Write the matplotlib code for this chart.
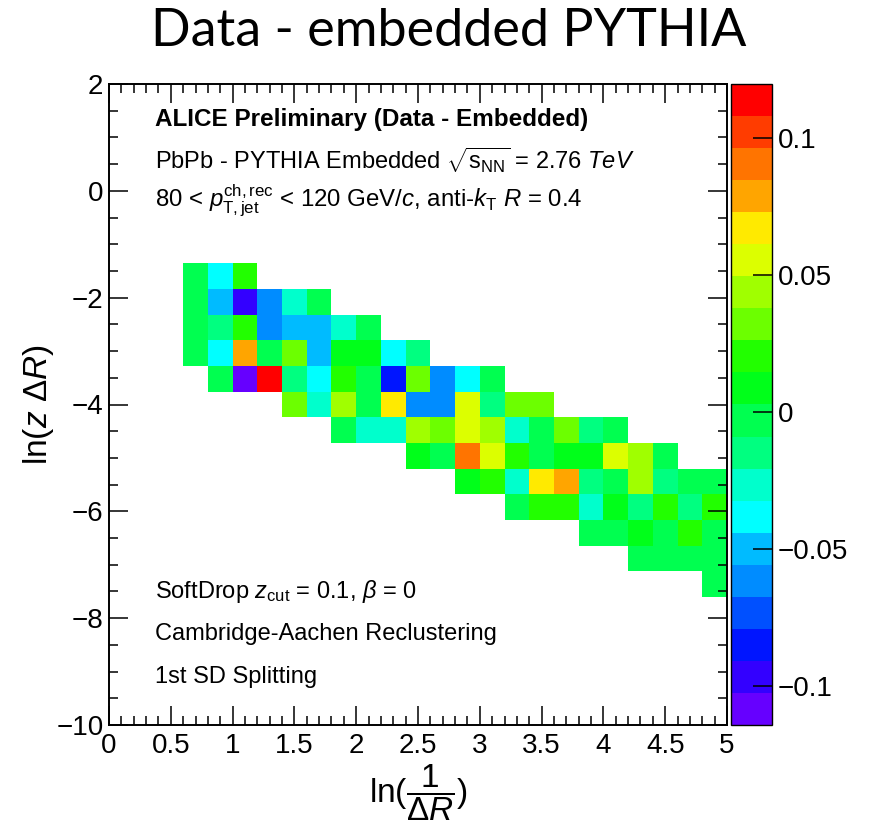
import numpy as np
import matplotlib
matplotlib.use("Agg")
import matplotlib.pyplot as plt
from matplotlib.colors import ListedColormap, Normalize

plt.rcParams['font.family'] = ['Liberation Sans', 'DejaVu Sans']
plt.rcParams['mathtext.fontset'] = 'custom'
plt.rcParams['mathtext.rm'] = 'Liberation Sans'
plt.rcParams['mathtext.it'] = 'Liberation Sans:italic'
plt.rcParams['mathtext.bf'] = 'Liberation Sans:bold'
plt.rcParams['axes.unicode_minus'] = True

# Histogram binning (25 x 25 bins)
x_edges = np.linspace(0, 5, 26)
y_edges = np.linspace(-10, 2, 26)
z_min, z_max = -0.1144, 0.1197

# Filled rows, from y bin 17 (top) down to y bin 5
row_ybin = [17, 16, 15, 14, 13, 12, 11, 10, 9, 8, 7, 6, 5]
row_first_xbin = [3, 3, 3, 3, 4, 7, 9, 12, 14, 16, 19, 21, 24]
row_vals = [
    [-0.003, -0.038, 0.020],
    [-0.003, -0.050, -0.097, -0.062, -0.027, -0.003],
    [-0.003, -0.015, 0.020, -0.062, -0.050, -0.050, -0.027, -0.003],
    [-0.003, -0.038, 0.079, -0.003, 0.032, -0.050, 0.009, 0.009, -0.038, -0.015],
    [-0.003, -0.108, 0.114, -0.015, -0.038, 0.020, -0.003, -0.085, 0.032, -0.062, -0.038, -0.003],
    [0.032, -0.027, 0.044, -0.003, 0.067, -0.062, -0.062, 0.055, -0.015, 0.032, 0.032],
    [-0.003, -0.027, -0.027, 0.044, 0.032, 0.055, 0.044, -0.027, -0.003, 0.032, -0.015, -0.003],
    [0.009, -0.003, 0.090, 0.055, 0.020, -0.003, 0.009, 0.009, 0.055, 0.044, -0.003],
    [0.009, 0.020, -0.027, 0.067, 0.079, -0.015, -0.003, 0.044, -0.015, -0.003, -0.003],
    [-0.003, 0.020, 0.020, -0.027, 0.009, -0.015, 0.020, -0.015, 0.020],
    [-0.003, -0.003, 0.009, -0.003, 0.020, -0.003],
    [-0.003, -0.003, -0.003, -0.003],
    [-0.003],
]

# ROOT-like rainbow palette, 20 contours
palette = ['#6600ff', '#3300ff', '#0015ff', '#0050ff', '#008cff',
           '#00bbff', '#00ffff', '#00ffcc', '#00ff80', '#00ff50',
           '#00ff1a', '#22ff00', '#6cff00', '#a0ff00', '#dcff00',
           '#ffea00', '#ffa500', '#ff7400', '#ff3c00', '#ff0000']

cbar_ticks = [-0.1, -0.05, 0, 0.05, 0.1]
cbar_labels = ['\u22120.1', '\u22120.05', '0', '0.05', '0.1']

# Fill the 2D array
Z = np.full((25, 25), np.nan)
for yb, xb0, vals in zip(row_ybin, row_first_xbin, row_vals):
    Z[yb, xb0:xb0 + len(vals)] = vals
Z = np.ma.masked_invalid(Z)

W, H = 869, 823
fig = plt.figure(figsize=(W / 100, H / 100), dpi=100)
fig.patch.set_facecolor('white')

# axes box in pixels: left 109, right 727, top 84, bottom 725
ax = fig.add_axes([109 / W, 1 - 725 / H, 618 / W, 641 / H])
cmap = ListedColormap(palette)
norm = Normalize(vmin=z_min, vmax=z_max)
mesh = ax.pcolormesh(x_edges, y_edges, Z, cmap=cmap, norm=norm,
                     edgecolors='none', antialiased=False)

ax.set_xlim(0, 5)
ax.set_ylim(-10, 2)
ax.set_xticks(np.arange(0, 5.01, 0.5))
ax.set_xticklabels(['0', '0.5', '1', '1.5', '2', '2.5', '3', '3.5', '4', '4.5', '5'])
ax.set_xticks(np.arange(0, 5.01, 0.1), minor=True)
ax.set_yticks(np.arange(-10, 2.01, 2))
ax.set_yticks(np.arange(-10, 2.01, 0.5), minor=True)
ax.tick_params(which='both', direction='in', top=True, right=True,
               width=1.1, labelsize=20)
ax.tick_params(which='major', length=13.5)
ax.tick_params(which='minor', length=6.8)
ax.tick_params(axis='x', pad=6)
ax.tick_params(axis='y', pad=4)
for s in ax.spines.values():
    s.set_linewidth(1.4)

ax.set_xlabel(r'ln$(\dfrac{1}{\Delta R})$', fontsize=24, labelpad=2)
ax.set_ylabel(r'ln($z\ \Delta R$)', fontsize=24, labelpad=0)

# text block
tx = (155 - 109) / 618
def ypos(py):
    return 1 - (py - 84) / 641

ax.text(tx, ypos(126), 'ALICE Preliminary (Data - Embedded)', transform=ax.transAxes,
        fontsize=17.5, fontweight='bold', va='baseline')
ax.text(tx, ypos(169), r'PbPb - PYTHIA Embedded $\sqrt{\mathrm{s}_{\mathrm{NN}}}$ = 2.76 $TeV$',
        transform=ax.transAxes, fontsize=17, va='baseline')
ax.text(tx, ypos(206), r'80 < $p_{\mathrm{T,jet}}^{\mathrm{ch,rec}}$ < 120 GeV/$c$, anti-$k_{\mathrm{T}}$ $R$ = 0.4',
        transform=ax.transAxes, fontsize=17.3, va='baseline')
ax.text(tx, ypos(598), r'SoftDrop $z_{\mathrm{cut}}$ = 0.1, $\beta$ = 0',
        transform=ax.transAxes, fontsize=17, va='baseline')
ax.text(tx, ypos(640), 'Cambridge-Aachen Reclustering',
        transform=ax.transAxes, fontsize=17, va='baseline')
ax.text(tx, ypos(683), '1st SD Splitting',
        transform=ax.transAxes, fontsize=17, va='baseline')

# palette axis
cax = fig.add_axes([731 / W, 1 - 725 / H, 41 / W, 641 / H])
cb = fig.colorbar(mesh, cax=cax)
cb.set_ticks(cbar_ticks)
cb.set_ticklabels(cbar_labels)
cax.tick_params(direction='in', length=14, width=1.1, labelsize=20, pad=4)
cb.outline.set_linewidth(1.0)

fig.text(449 / W, 1 - 31 / H, 'Data - embedded PYTHIA', fontsize=37.5,
         family='Lato', ha='center', va='center')

fig.savefig('out.png', dpi=100)
